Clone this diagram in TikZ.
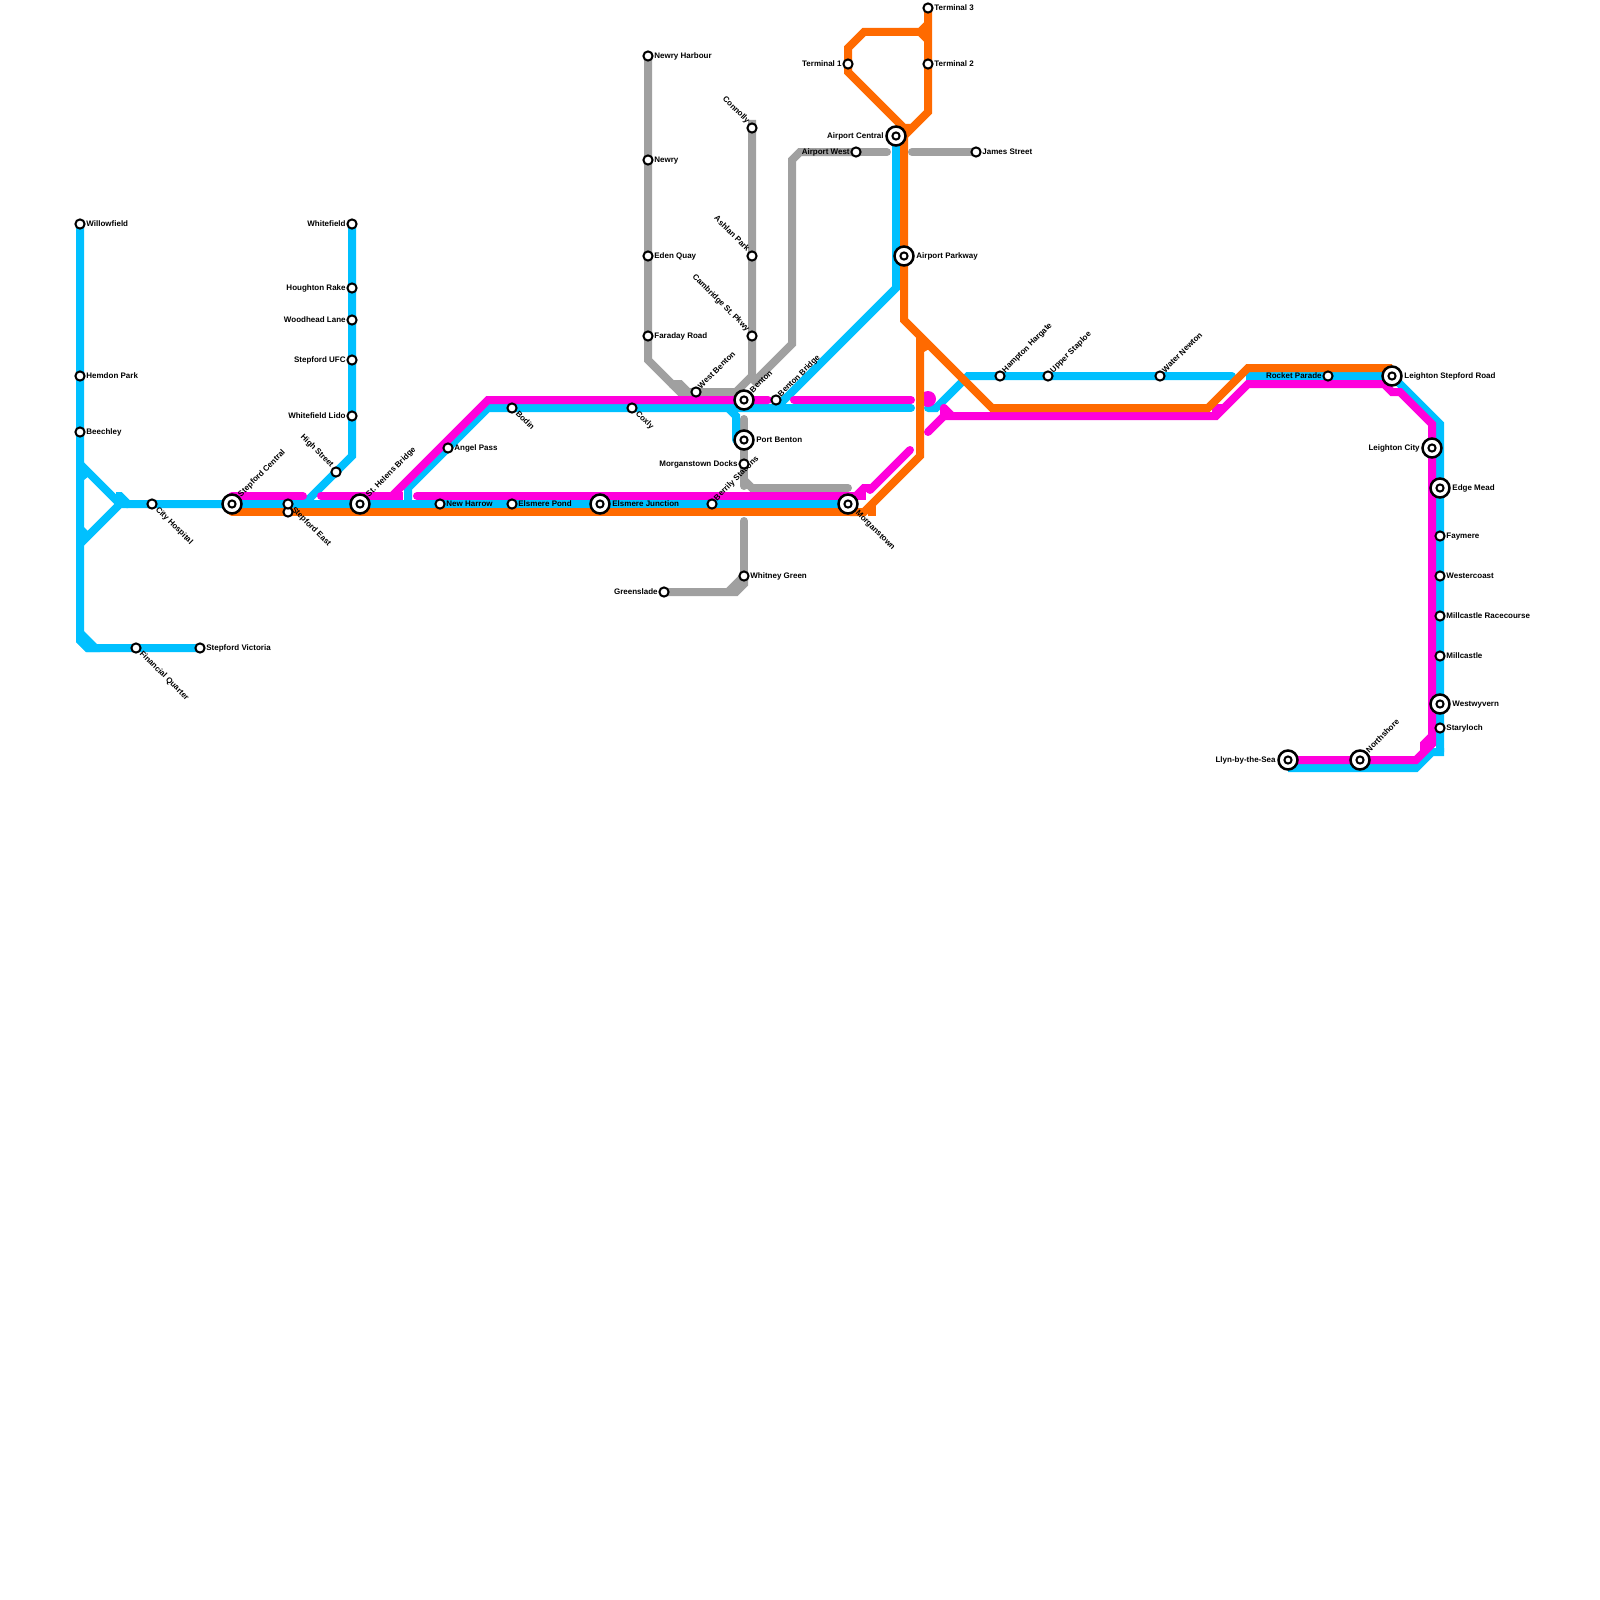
\documentclass[tikz,border=0pt]{standalone}
\usepackage{fontspec}
\setmainfont{Liberation Sans}
\usetikzlibrary{backgrounds}
\definecolor{mblue}{HTML}{00C0FF}
\definecolor{mpink}{HTML}{FF00DC}
\definecolor{morange}{HTML}{FF6A00}
\definecolor{mgrey}{HTML}{A0A0A0}
\tikzset{
  x=0.5pt,y=-0.5pt,
  ln/.style={line width=4pt,line cap=butt,line join=miter,miter limit=10},
  bl/.style={ln,draw=mblue},
  pk/.style={ln,draw=mpink},
  og/.style={ln,draw=morange},
  gy/.style={ln,draw=mgrey},
  rnd/.style={line cap=round},
  dotst/.style={circle,draw=black,fill=white,line width=1pt,minimum size=4.6pt,inner sep=0pt},
  ixst/.style={circle,draw=black,fill=white,line width=1.25pt,minimum size=9.5pt,inner sep=0pt,
    path picture={\draw[black,line width=1pt] (path picture bounding box.center) circle (1.8pt);}},
  lab/.style={font=\bfseries\fontsize{4}{4.8}\selectfont,inner sep=0pt,text=black,text height=3pt,text depth=0.8pt},
  lE/.style={lab,xshift=3pt,anchor=west},
  lW/.style={lab,xshift=-3pt,anchor=east},
  lNE/.style={lab,xshift=1.7pt,yshift=2.1pt,anchor=west,rotate=45},
  lSE/.style={lab,xshift=2.3pt,yshift=-2.1pt,anchor=west,rotate=-45},
  lNW/.style={lab,xshift=-1.8pt,yshift=2.8pt,anchor=east,rotate=-45},
  iE/.style={lab,xshift=6pt,anchor=west},
  iW/.style={lab,xshift=-6pt,anchor=east},
  iNE/.style={lab,xshift=3.7pt,yshift=4.1pt,anchor=west,rotate=45},
  iSE/.style={lab,xshift=4.3pt,yshift=-3.8pt,anchor=west,rotate=-45},
}
\newcommand{\St}[4]{\node[dotst] (#1) at (#2) {}; \node[#3] (#1-l) at (#1.center) {#4};}
\newcommand{\Ix}[4]{\node[ixst] (#1) at (#2) {}; \node[#3] (#1-l) at (#1.center) {#4};}
\begin{document}
\frenchspacing
\begin{tikzpicture}
\useasboundingbox (0,0) rectangle (1600,1600);
% stations
\St{wf}{80,224}{lE}{Willowfield}
\St{hp}{80,376}{lE}{Hemdon Park}
\St{be}{80,432}{lE}{Beechley}
\St{ch}{152,504}{lSE}{City Hospital}
\St{fq}{136,648}{lSE}{Financial Quarter}
\St{sv}{200,648}{lE}{Stepford Victoria}
\St{wfd}{352,224}{lW}{Whitefield}
\St{hr}{352,288}{lW}{Houghton Rake}
\St{wl}{352,320}{lW}{Woodhead Lane}
\St{su}{352,360}{lW}{Stepford UFC}
\St{wdl}{352,416}{lW}{Whitefield Lido}
\St{hs}{336,472}{lNW}{High Street}
\node[dotst] (se2) at (288,512) {};
\St{se}{288,504}{lSE}{Stepford East}
\St{ap}{448,448}{lE}{Angel Pass}
\St{nh}{440,504}{lE}{New Harrow}
\St{ep}{512,504}{lE}{Elsmere Pond}
\St{bo}{512,408}{lSE}{Bodin}
\St{cx}{632,408}{lSE}{Coxly}
\St{wb}{696,392}{lNE}{West Benton}
\St{bb}{776,400}{lNE}{Benton Bridge}
\St{bs}{712,504}{lNE}{Berrily Stations}
\St{md}{744,464}{lW}{Morganstown Docks}
\St{wg}{744,576}{lE}{Whitney Green}
\St{gs}{664,592}{lW}{Greenslade}
\St{nyh}{648,56}{lE}{Newry Harbour}
\St{ny}{648,160}{lE}{Newry}
\St{eq}{648,256}{lE}{Eden Quay}
\St{fr}{648,336}{lE}{Faraday Road}
\St{cn}{752,128}{lNW}{Connolly}
\St{ash}{752,256}{lNW}{Ashlan Park}
\St{cs}{752,336}{lNW}{Cambridge St. Pkwy}
\St{aw}{856,152}{lW}{Airport West}
\St{js}{976,152}{lE}{James Street}
\St{tone}{848,64}{lW}{Terminal 1}
\St{ttwo}{928,64}{lE}{Terminal 2}
\St{tthree}{928,8}{lE}{Terminal 3}
\St{hh}{1000,376}{lNE}{Hampton Hargate}
\St{us}{1048,376}{lNE}{Upper Staploe}
\St{wn}{1160,376}{lNE}{Water Newton}
\St{rp}{1328,376}{lW}{Rocket Parade}
\St{fa}{1440,536}{lE}{Faymere}
\St{wc}{1440,576}{lE}{Westercoast}
\St{mr}{1440,616}{lE}{Millcastle Racecourse}
\St{mc}{1440,656}{lE}{Millcastle}
\St{sl}{1440,728}{lE}{Staryloch}
\Ix{sc}{232,504}{iNE}{Stepford Central}
\Ix{sh}{360,504}{iNE}{St. Helens Bridge}
\Ix{ej}{600,504}{iE}{Elsmere Junction}
\Ix{bn}{744,400}{iNE}{Benton}
\Ix{pb}{744,440}{iE}{Port Benton}
\Ix{mg}{848,504}{iSE}{Morganstown}
\Ix{ac}{896,136}{iW}{Airport Central}
\Ix{apk}{904,256}{iE}{Airport Parkway}
\Ix{ls}{1392,376}{iE}{Leighton Stepford Road}
\Ix{lc}{1432,448}{iW}{Leighton City}
\Ix{em}{1440,488}{iE}{Edge Mead}
\Ix{ww}{1440,704}{iE}{Westwyvern}
\Ix{ns}{1360,760}{iNE}{Northshore}
\Ix{ly}{1288,760}{iW}{Llyn-by-the-Sea}
\begin{pgfonlayer}{background}
% grey
\draw[gy] (nyh.center)--(648,360)--(672,384)--(680,384)--(688,392);
\draw[gy] (672,384)--(680,392)--(736,392)--(752,376)--(cn.center)--(752,120);
\draw[gy] (752,384)--(792,344)--(792,160)--(800,152)--(aw.center);
\draw[gy,rnd] (aw.center)--(887,152);
\draw[gy,rnd] (912,152)--(js.center);
\draw[gy,rnd] (744,419)--(744,486);
\draw[gy,rnd] (744,480)--(752,488)--(848,488);
\draw[gy,rnd] (744,521)--(wg.center);
\draw[gy] (wg.center)--(744,584)--(736,592)--(gs.center);
\draw[gy] (744,576)--(728,592);
% blue
\draw[bl] (wf.center)--(80,640)--(88,648)--(sv.center);
\fill[mblue] (76,630)--(76,642)--(86,652)--(100,652)--(100,644)--(97,644)--(84,631)--cycle;
\draw[bl] (80,464)--(120,504);
\draw[bl] (116,496)--(120,496)--(128,504)--(sc.center);
\draw[bl] (80,544)--(120,504)--(128,504);
\fill[mblue] (84,472)--(84,480)--(89,476)--cycle;
\fill[mblue] (84,527)--(88,531)--(84,535)--cycle;
\draw[bl] (wfd.center)--(352,456)--(304,504);
\draw[bl] (sc.center)--(mg.center);
\draw[bl] (408,504)--(408,488)--(488,408)--(880,408);
\draw[bl,rnd] (880,408)--(911,408);
\draw[bl,rnd] (928,408)--(936,408)--(968,376)--(1232,376);
\draw[bl] (1246,376)--(ls.center)--(1440,424)--(1440,752);
\draw[bl] (1288,768)--(1416,768)--(1432,752)--(1444,752);
\draw[bl] (ac.center)--(896,288)--(776,408);
\draw[bl,rnd] (728,408)--(736,416)--(736,440);
% pink
\draw[pk,rnd] (232,496)--(303,496);
\draw[pk,rnd] (321,496)--(392,496);
\draw[pk] (380,496)--(403,496);
\draw[pk,rnd] (417,496)--(856,496);
\draw[pk] (800,496)--(866,496);
\draw[pk] (856,496)--(864,488)--(872,488);
\draw[pk,rnd] (870,490)--(910,450);
\draw[pk] (392,496)--(488,400)--(768,400);
\draw[pk,rnd] (760,400)--(768,400);
\draw[pk,rnd] (794,400)--(911,400);
\fill[mpink] (928,399) circle (4pt);
\draw[pk,rnd] (928,432)--(944,416);
\draw[pk] (944,416)--(1216,416)--(1248,384)--(1384,384)--(1392,392)--(1400,392)--(1432,424)--(1432,744)--(1416,760)--(ly.center);
\draw[pk,line join=round] (944,416)--(944,408)--(952,416);
\draw[pk] (1212,408)--(1224,408);
\draw[pk] (1424,752)--(1424,744)--(1432,736);
% orange
\draw[og,rnd] (232,512)--(864,512);
\draw[og] (850,512)--(864,512)--(920,456)--(920,336);
\draw[og] (872,506)--(872,516);
\fill[morange] (924,352)--(924,345)--(929,349)--cycle;
\draw[og] (904,136)--(904,320)--(992,408)--(1208,408)--(1248,368)--(1392,368);
\draw[og] (904,136)--(928,112)--(tthree.center);
\draw[og] (tone.center)--(848,72)--(904,128)--(912,128);
\draw[og] (tone.center)--(848,48)--(864,32)--(920,32)--(928,24);
\draw[og] (920,32)--(928,40);
\end{pgfonlayer}
\end{tikzpicture}
\end{document}
